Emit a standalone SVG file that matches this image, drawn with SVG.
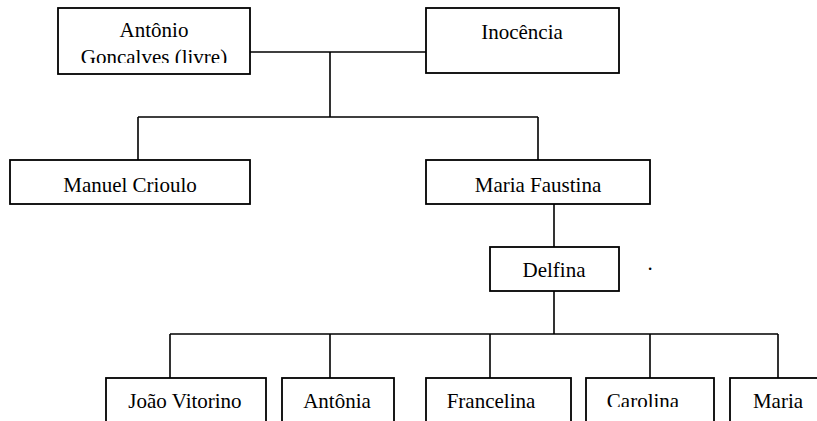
<svg xmlns="http://www.w3.org/2000/svg" width="817" height="421" viewBox="0 0 817 421">
<style>
.box{fill:#fff;stroke:#000;stroke-width:1.8}
.t{font-size:21px;fill:#000;text-anchor:middle}
.c{fill:none;stroke:#000;stroke-width:1.6}
</style>
<defs>
<clipPath id="clipA"><rect x="58" y="8" width="192" height="55"/></clipPath>
<clipPath id="clipC"><rect x="587" y="378" width="127" height="29"/></clipPath>
</defs>
<rect width="817" height="421" fill="#fff"/>
<g id="connectors">
<path class="c" d="M250 52H426M330 52V117M138 117H538M138 117V160M538 117V160"/>
<path class="c" d="M554 204V247"/>
<path class="c" d="M554 291V334M170 334H778M170 334V378M330 334V378M490 334V378M650 334V378M778 334V378"/>
</g>
<g font-family="Liberation Serif, DejaVu Serif, serif">
<g id="antonio">
<rect class="box" x="58" y="8" width="192" height="66"/>
<g clip-path="url(#clipA)">
<text class="t" x="154" y="37">Antônio</text>
<text class="t" x="154" y="64">Goncalves (livre)</text>
</g>
</g>
<g id="inocencia">
<rect class="box" x="426" y="8" width="193" height="65"/>
<text class="t" x="522" y="39">Inocência</text>
</g>
<g id="manuel">
<rect class="box" x="10" y="160" width="240" height="44"/>
<text class="t" x="130" y="192">Manuel Crioulo</text>
</g>
<g id="maria-faustina">
<rect class="box" x="426" y="160" width="224" height="44"/>
<text class="t" x="538" y="192">Maria Faustina</text>
</g>
<g id="delfina">
<rect class="box" x="490" y="247" width="129" height="44"/>
<text class="t" x="554" y="277">Delfina</text>
</g>
<text class="t" x="650" y="270" font-size="12">.</text>
<g id="joao">
<rect class="box" x="106" y="378" width="160" height="50"/>
<text class="t" x="185" y="408">João Vitorino</text>
</g>
<g id="antonia">
<rect class="box" x="282" y="378" width="112" height="50"/>
<text class="t" x="337" y="408">Antônia</text>
</g>
<g id="francelina">
<rect class="box" x="426" y="378" width="145" height="50"/>
<text class="t" x="491" y="408">Francelina</text>
</g>
<g id="carolina">
<rect class="box" x="586" y="378" width="128" height="50"/>
<g clip-path="url(#clipC)"><text class="t" x="643" y="408">Carolina</text></g>
</g>
<g id="maria">
<rect class="box" x="730" y="378" width="100" height="50"/>
<text class="t" x="778" y="408">Maria</text>
</g>
</g>
</svg>
